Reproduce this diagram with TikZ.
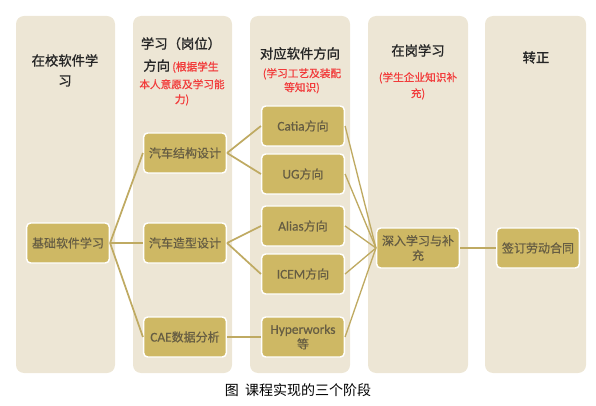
\documentclass[tikz,border=0pt]{standalone}
\usepackage{fontspec}
\setmainfont{Noto Sans CJK SC}
\newfontfamily\strongfont[FakeBold=1.2]{Noto Sans CJK SC}
\newfontfamily\midfont[FakeBold=0.6]{Noto Sans CJK SC}
\newfontfamily\latinfont[FakeBold=0.5]{Carlito}
\definecolor{panelbg}{HTML}{EDE6D5}
\definecolor{boxgold}{HTML}{CEB864}
\definecolor{boxtext}{HTML}{665D43}
\definecolor{linegold}{HTML}{BFAA62}
\definecolor{notered}{HTML}{F23A3A}
\definecolor{headtext}{HTML}{262626}
\newcommand\lat[1]{{\latinfont\fontsize{10}{12}\selectfont #1}}
\newcommand\rednote[1]{{\color{notered}\fontsize{8}{10}\selectfont #1}}

\begin{document}
\begin{tikzpicture}[x=0.75pt,y=-0.75pt,
  panel/.style={fill=panelbg, rounded corners=6pt},
  box/.style={fill=boxgold, draw=white, line width=1.1pt, rounded corners=3pt,
    minimum width=62pt, minimum height=30pt, inner sep=1pt, align=center,
    text=boxtext, font=\midfont\fontsize{9}{11}\selectfont},
  head/.style={anchor=north, inner sep=0pt, align=center, text=headtext,
    font=\strongfont\fontsize{10}{15}\selectfont},
  note/.style={anchor=north, inner sep=0pt, align=center, text=notered},
  link/.style={draw=linegold, line width=1.3pt}]
  \useasboundingbox (0,0) rectangle (596,406);

  % five stages
  \fill[panel] (16,16) rectangle (115,373);
  \fill[panel] (133,16) rectangle (232,373);
  \fill[panel] (250,16) rectangle (350,373);
  \fill[panel] (368,16) rectangle (468,373);
  \fill[panel] (485,16) rectangle (586,373);

  % headings
  \node[head] (h1) at (65,54) {在校软件学\\习};
  \node[head] (h2) at (181,37) {学习（岗位）\\[1.5pt]方向\,\rednote{(根据学生}};
  \node[note, font=\midfont\fontsize{8}{11.25}\selectfont] (n2) at (182,79) {本人意愿及学习能\\力)};
  \node[head] (h3) at (300,47) {对应软件方向};
  \node[note, font=\midfont\fontsize{8}{10.5}\selectfont] (n3) at (302,68) {(学习工艺及装配\\等知识)};
  \node[head] (h4) at (418,44) {在岗学习};
  \node[note, font=\midfont\fontsize{8}{12}\selectfont] (n4) at (418,72) {(学生企业知识补\\充)};
  \node[head] (h5) at (536,51) {转正};

  % boxes
  \node[box] (base) at (68,243) {基础软件学习};
  \node[box] (struct) at (185,153) {汽车结构设计};
  \node[box] (shape) at (185,243) {汽车造型设计};
  \node[box] (cae) at (185,337) {\lat{CAE}数据分析};
  \node[box] (catia) at (303,126) {\lat{Catia}方向};
  \node[box] (ug) at (303,174) {\lat{UG}方向};
  \node[box] (alias) at (303,226) {\lat{Alias}方向};
  \node[box] (icem) at (303,274) {\lat{ICEM}方向};
  \node[box] (hyper) at (303,337) {\lat{Hyperworks}\\等};
  \node[box] (deep) at (418,248) {深入学习与补\\充};
  \node[box] (sign) at (538,248) {签订劳动合同};

  % connectors
  \draw[link] (base.east) -- (struct.west);
  \draw[link] (base.east) -- (shape.west);
  \draw[link] (base.east) -- (cae.west);
  \draw[link] (struct.east) -- (catia.west);
  \draw[link] (struct.east) -- (ug.west);
  \draw[link] (shape.east) -- (alias.west);
  \draw[link] (shape.east) -- (icem.west);
  \draw[link] (cae.east) -- (hyper.west);
  \foreach \n in {catia,ug,alias,icem,hyper}
    \draw[link, line width=1pt] (\n.east) -- (deep.west);
  \draw[link] (deep.east) -- (sign.west);

  \node[font=\fontsize{10.5}{12}\selectfont] (cap) at (298,390) {图\ \ 课程实现的三个阶段};
\end{tikzpicture}
\end{document}
